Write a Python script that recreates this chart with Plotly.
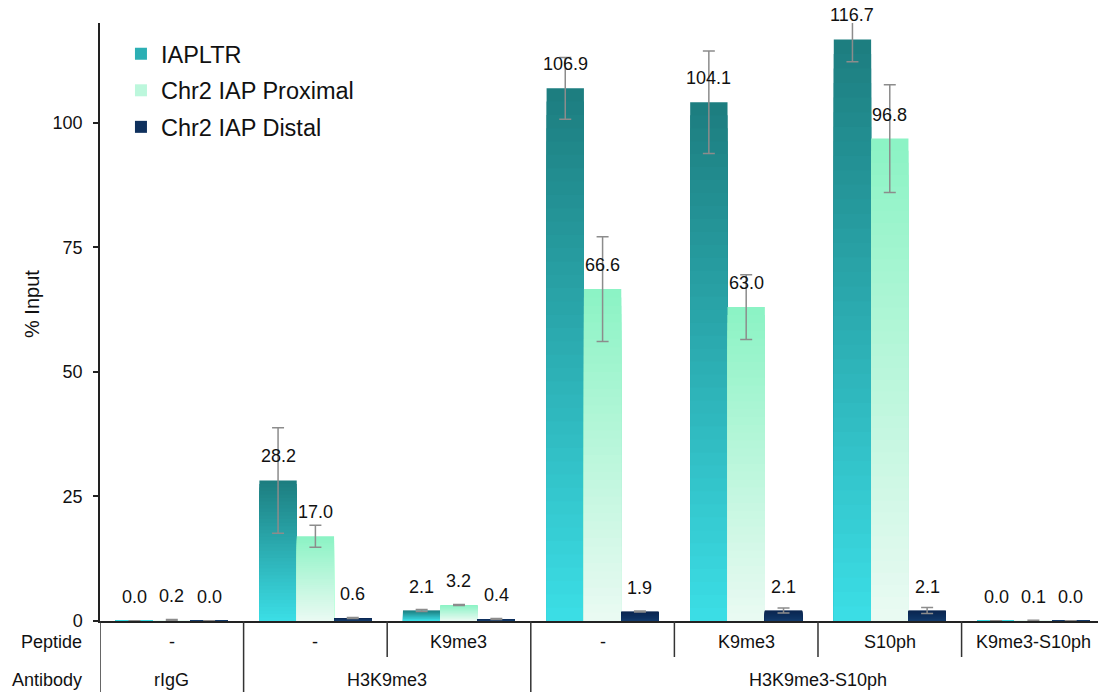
import plotly.graph_objects as go

# ---- data -------------------------------------------------------------
antibody = ["rIgG", "H3K9me3", "H3K9me3", "H3K9me3-S10ph", "H3K9me3-S10ph",
            "H3K9me3-S10ph", "H3K9me3-S10ph"]
peptide = ["-", "-", "K9me3", "-", "K9me3", "S10ph", "K9me3-S10ph"]

series_names = ["IAPLTR", "Chr2 IAP Proximal", "Chr2 IAP Distal"]

iapltr = [0.03, 28.2, 2.1, 106.9, 104.1, 116.7, 0.03]
proximal = [0.2, 17.0, 3.2, 66.6, 63.0, 96.8, 0.1]
distal = [0.03, 0.6, 0.4, 1.9, 2.1, 2.1, 0.03]

iapltr_err = [0.0, 10.6, 0.2, 6.2, 10.3, 4.5, 0.0]
proximal_err = [0.1, 2.2, 0.1, 10.5, 6.5, 10.8, 0.05]
distal_err = [0.0, 0.1, 0.1, 0.1, 0.5, 0.6, 0.0]

y_ticks = [0, 25, 50, 75, 100]

# ---- styling ------------------------------------------------------------
FONT = "Liberation Sans, Arial, sans-serif"
gradients = [("#1d7e80", "#3bdde5"),   # top -> bottom
             ("#8cf3c5", "#e9faf2"),
             ("#0b2650", "#12396a")]
N_STEPS = 40
BARGAP = 0.22
PLOT_H = 598  # plot area height in px (692 - 23 - 71)

values = [iapltr, proximal, distal]
errors = [iapltr_err, proximal_err, distal_err]
keys = [f"{a} | {p}" for a, p in zip(antibody, peptide)]


def mix(c1, c2, t):
    a = [int(c1[i:i + 2], 16) for i in (1, 3, 5)]
    b = [int(c2[i:i + 2], 16) for i in (1, 3, 5)]
    return "rgb(%d,%d,%d)" % tuple(round(x + (y - x) * t) for x, y in zip(a, b))


fig = go.Figure()

# Each bar is a stack of overlapping, progressively shorter bars so that the
# fill runs from a dark shade at the top to a light shade at the base.
for name, vals, errs, (top, bottom) in zip(series_names, values, errors, gradients):
    for k in range(N_STEPS):
        frac = (N_STEPS - k) / N_STEPS
        fig.add_trace(go.Bar(
            x=keys, y=[v * frac for v in vals],
            name=name, legendgroup=name, offsetgroup=name,
            showlegend=(k == N_STEPS // 2),
            marker=dict(color=mix(top, bottom, k / (N_STEPS - 1)), line=dict(width=0)),
            hoverinfo="skip",
        ))
    # transparent bar on top carrying the error bars and hover values
    fig.add_trace(go.Bar(
        x=keys, y=vals, name=name, legendgroup=name, offsetgroup=name,
        showlegend=False,
        marker=dict(color="rgba(0,0,0,0)", line=dict(width=0)),
        error_y=dict(type="data", array=errs, visible=True,
                     color="#8c8c8c", thickness=1.5, width=6),
        hovertemplate="%{x}<br>" + name + ": %{y:.1f}<extra></extra>",
    ))

# value labels above each bar
bar_w = (1 - BARGAP) / len(series_names)
annotations = []
for s, vals in enumerate(values):
    offset = (s - (len(series_names) - 1) / 2) * bar_w
    for j, v in enumerate(vals):
        annotations.append(dict(
            x=j + offset, y=v, xref="x", yref="y", text=f"{v:.1f}",
            showarrow=False, yshift=24, yanchor="middle",
            font=dict(family=FONT, size=18, color="#111111"),
        ))

# table rows under the x axis
row_pep_y = -21 / PLOT_H
row_ab_y = -59 / PLOT_H
for label, yy in (("Peptide", row_pep_y), ("Antibody", row_ab_y)):
    annotations.append(dict(
        x=0, y=yy, xref="paper", yref="paper", text=label, showarrow=False,
        xanchor="right", xshift=-16, yanchor="middle",
        font=dict(family=FONT, size=18, color="#111111"),
    ))
for j, p in enumerate(peptide):
    annotations.append(dict(
        x=j, y=row_pep_y, xref="x", yref="paper", text=p, showarrow=False,
        yanchor="middle", font=dict(family=FONT, size=18, color="#111111"),
    ))

# antibody groups: contiguous runs
groups = []
start = 0
for j in range(1, len(antibody) + 1):
    if j == len(antibody) or antibody[j] != antibody[start]:
        groups.append((antibody[start], start, j - 1))
        start = j
for ab, j0, j1 in groups:
    annotations.append(dict(
        x=(j0 + j1) / 2, y=row_ab_y, xref="x", yref="paper", text=ab,
        showarrow=False, yanchor="middle",
        font=dict(family=FONT, size=18, color="#111111"),
    ))

# y axis title
annotations.append(dict(
    x=0, y=(621 - 304) / PLOT_H, xref="paper", yref="paper", text="% Input",
    showarrow=False, textangle=-90, xanchor="center", yanchor="middle",
    xshift=-68, font=dict(family=FONT, size=20, color="#111111"),
))

# separators of the table
shapes = []
full_bottom = -71 / PLOT_H
pep_bottom = -36 / PLOT_H
line_style = dict(color="#333333", width=1.5)
shapes.append(dict(type="line", xref="x", yref="paper", x0=-0.5, x1=-0.5,
                   y0=0, y1=full_bottom, line=line_style))
for j in range(len(keys) - 1):
    same = antibody[j] == antibody[j + 1]
    shapes.append(dict(type="line", xref="x", yref="paper",
                       x0=j + 0.5, x1=j + 0.5, y0=0,
                       y1=pep_bottom if same else full_bottom, line=line_style))

fig.update_layout(
    width=1098, height=692,
    margin=dict(l=100, r=0, t=23, b=71),
    paper_bgcolor="white", plot_bgcolor="white",
    barmode="group", bargap=BARGAP, bargroupgap=0,
    font=dict(family=FONT, size=18, color="#111111"),
    showlegend=True,
    legend=dict(
        x=0.021, y=0.985, xanchor="left", yanchor="top",
        bgcolor="rgba(0,0,0,0)", traceorder="grouped", tracegroupgap=3,
        font=dict(family=FONT, size=23.5, color="#111111"),
    ),
    xaxis=dict(
        type="category", categoryorder="array", categoryarray=keys,
        range=[-0.5, 6.45], showticklabels=False, ticks="",
        showline=True, linecolor="#222222", linewidth=1.5,
        showgrid=False, zeroline=False, fixedrange=True,
    ),
    yaxis=dict(
        range=[0, 120], tickvals=y_ticks, ticks="outside", ticklen=5,
        tickwidth=1.5, tickcolor="#222222", ticklabelstandoff=7,
        showline=True, linecolor="#222222", linewidth=1.5,
        showgrid=False, zeroline=False,
        tickfont=dict(family=FONT, size=18, color="#111111"),
    ),
    annotations=annotations,
    shapes=shapes,
)

fig.write_html("out.html")
